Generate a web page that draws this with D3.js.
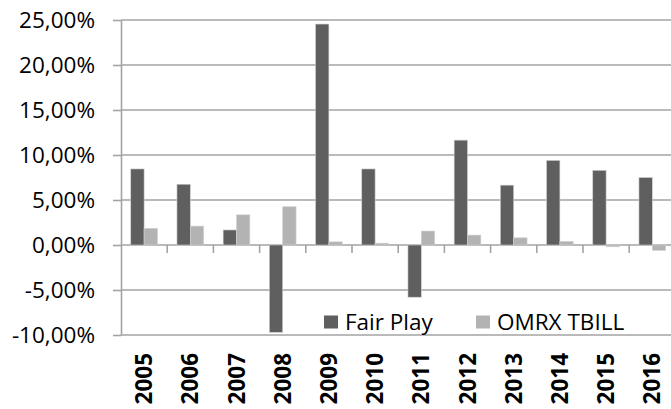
<!DOCTYPE html>
<html>
<head>
<meta charset="utf-8">
<script src="https://cdn.jsdelivr.net/npm/d3@7"></script>
<style>
  html, body { margin: 0; padding: 0; background: #fff; }
  svg { display: block; }
</style>
</head>
<body>
<svg id="chart" width="671" height="409"></svg>
<script>
const years = ["2005","2006","2007","2008","2009","2010","2011","2012","2013","2014","2015","2016"];
const fairPlay = [8.45, 6.75, 1.67, -9.7, 24.55, 8.45, -5.8, 11.65, 6.65, 9.4, 8.3, 7.5];
const omrxTbill = [1.85, 2.1, 3.35, 4.25, 0.35, 0.2, 1.55, 1.1, 0.8, 0.4, -0.2, -0.6];
const seriesNames = ["Fair Play", "OMRX TBILL"];
const seriesColors = ["#5f5f5f", "#b3b3b3"];
const yTicks = [-10, -5, 0, 5, 10, 15, 20, 25];

const svg = d3.select("#chart");
const plotLeft = 121, plotRight = 675.4, plotTop = 20, plotBottom = 335;

const x = d3.scaleBand().domain(years).range([plotLeft, plotRight]).paddingInner(0.422).paddingOuter(0.211);
const xs = d3.scaleBand().domain(seriesNames).range([0, x.bandwidth()]);
const y = d3.scaleLinear().domain([-10, 25]).range([plotBottom, plotTop]);

const fmt = v => (v < 0 ? "-" : "") + Math.abs(v).toFixed(2).replace(".", ",") + "%";
const gridColor = "#a3a3a3";

// gridlines
svg.append("g").selectAll("line").data(yTicks).join("line")
  .attr("x1", plotLeft).attr("x2", 671)
  .attr("y1", d => y(d)).attr("y2", d => y(d))
  .attr("stroke", gridColor).attr("stroke-width", 1.6);

// y axis
const yAxis = d3.axisLeft(y).tickValues(yTicks).tickSize(8).tickSizeOuter(0).tickFormat(fmt);
const gy = svg.append("g").attr("transform", `translate(${plotLeft},0)`).call(yAxis);
gy.select(".domain").attr("stroke", gridColor).attr("stroke-width", 1.6);
gy.selectAll(".tick line").attr("stroke", gridColor).attr("stroke-width", 1.6);
gy.selectAll(".tick text")
  .attr("x", -26)
  .attr("font-family", "'Open Sans', sans-serif")
  .attr("font-size", 22.5)
  .attr("fill", "#000");

// bars
const data = years.map((yr, i) => ({ yr, vals: [fairPlay[i], omrxTbill[i]] }));
const groups = svg.append("g").selectAll("g").data(data).join("g")
  .attr("transform", d => `translate(${x(d.yr)},0)`);
groups.selectAll("rect").data(d => d.vals.map((v, j) => ({ v, name: seriesNames[j], j }))).join("rect")
  .attr("x", d => xs(d.name))
  .attr("width", xs.bandwidth())
  .attr("y", d => Math.min(y(d.v), y(0)))
  .attr("height", d => Math.abs(y(d.v) - y(0)))
  .attr("fill", d => seriesColors[d.j])
  .attr("stroke", "#d0d0d0")
  .attr("stroke-width", 0.6);

// category axis at zero
const xAxis = d3.axisBottom(x).tickSize(0).tickFormat("");
const gx = svg.append("g").attr("transform", `translate(0,${y(0)})`).call(xAxis);
gx.select(".domain").remove();
const boundaries = years.slice(1).map(yr => x(yr) - x.step() * x.paddingInner() / 2);
gx.selectAll(".bound").data(boundaries).join("line")
  .attr("x1", d => d).attr("x2", d => d)
  .attr("y1", 0).attr("y2", 8)
  .attr("stroke", gridColor).attr("stroke-width", 1.6);

// year labels
svg.append("g").selectAll("text").data(years).join("text")
  .attr("transform", d => `translate(${x(d) + x.bandwidth() / 2},353) rotate(-90)`)
  .attr("text-anchor", "end")
  .attr("dy", "0.36em")
  .attr("font-family", "'Open Sans', sans-serif")
  .attr("font-weight", "bold")
  .attr("font-size", 22.5)
  .attr("fill", "#000")
  .text(d => d);

// legend
const legendItems = [
  { name: seriesNames[0], color: seriesColors[0], sx: 324, tx: 345 },
  { name: seriesNames[1], color: seriesColors[1], sx: 476, tx: 497 }
];
const lg = svg.append("g");
lg.selectAll("rect").data(legendItems).join("rect")
  .attr("x", d => d.sx).attr("y", 315.5).attr("width", 14).attr("height", 13)
  .attr("fill", d => d.color);
lg.selectAll("text").data(legendItems).join("text")
  .attr("x", d => d.tx).attr("y", 330)
  .attr("font-family", "'Open Sans', sans-serif")
  .attr("font-size", 22.5)
  .attr("fill", "#000")
  .text(d => d.name);
</script>
</body>
</html>
